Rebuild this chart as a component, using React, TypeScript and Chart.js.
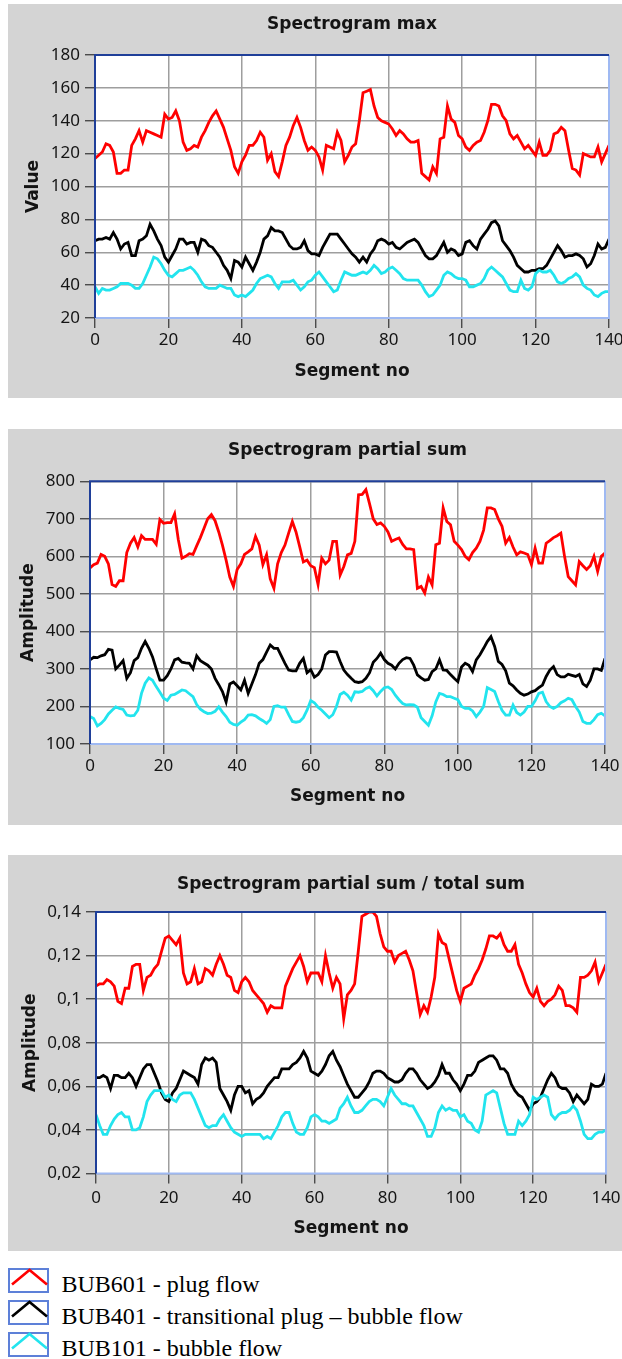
import React, { useEffect, useRef } from "react";
import { Chart, registerables } from "chart.js";

Chart.register(...registerables);

// ---------- data ----------
const SEGMENTS: number[] = Array.from({ length: 141 }, (_, i) => i);

const SERIES_NAMES = [
  "BUB601 - plug flow",
  "BUB401 - transitional plug \u2013 bubble flow",
  "BUB101 - bubble flow",
];
const SERIES_COLORS = ["#ff0000", "#000000", "#22e4ee"];

const CHART_TITLES = ["Spectrogram max", "Spectrogram partial sum", "Spectrogram partial sum / total sum"];
const Y_TITLES = ["Value", "Amplitude", "Amplitude"];
const X_TITLE = "Segment no";

// Spectrogram max
const MAX_PLUG = [
  117, 119, 121, 126, 125, 121, 108, 108, 110, 110,
  125, 129, 134, 127, 134, 133, 132, 131, 130, 144,
  141, 142, 146, 140, 127, 122, 123, 125, 124, 130,
  134, 139, 143, 146, 141, 136, 129, 122, 112, 108,
  115, 119, 125, 125, 128, 133, 130, 116, 120, 109,
  106, 115, 125, 130, 137, 142, 136, 128, 122, 124,
  122, 118, 110, 125, 124, 123, 133, 128, 115, 119,
  124, 126, 140, 157, 158, 159, 149, 142, 140, 139,
  138, 135, 131, 134, 132, 129, 127, 127, 128, 108,
  106, 104, 112, 108, 129, 130, 149, 141, 139, 131,
  129, 124, 122, 125, 127, 128, 133, 140, 150, 150,
  149, 143, 140, 132, 129, 131, 127, 123, 125, 122,
  119, 127, 119, 119, 122, 132, 133, 136, 134, 122,
  111, 110, 107, 120, 119, 118, 118, 124, 115, 120,
  125,
];
const MAX_TRANS = [
  67, 68, 68, 69, 68, 72, 68, 62, 65, 66,
  58, 58, 67, 68, 70, 77, 73, 68, 64, 57,
  54, 58, 62, 68, 68, 65, 66, 66, 60, 68,
  67, 64, 63, 60, 57, 52, 49, 44, 55, 54,
  51, 57, 53, 49, 54, 60, 68, 70, 75, 73,
  73, 72, 68, 64, 62, 62, 63, 67, 61, 59,
  59, 58, 63, 67, 71, 71, 71, 68, 65, 62,
  59, 57, 54, 57, 54, 59, 62, 67, 68, 67,
  65, 66, 63, 62, 64, 66, 67, 68, 66, 62,
  58, 56, 56, 58, 62, 66, 60, 62, 61, 58,
  59, 66, 67, 64, 62, 68, 71, 74, 78, 79,
  76, 67, 64, 61, 57, 52, 50, 48, 48, 49,
  49, 50, 50, 52, 56, 60, 64, 61, 57, 58,
  58, 59, 58, 56, 51, 53, 58, 65, 62, 63,
  68,
];
const MAX_BUBBLE = [
  39, 35, 38, 37, 37, 38, 39, 41, 41, 41,
  40, 38, 38, 41, 46, 51, 57, 56, 53, 49,
  46, 45, 47, 49, 49, 50, 51, 49, 46, 42,
  39, 38, 38, 38, 40, 39, 38, 38, 34, 33,
  34, 33, 35, 37, 41, 44, 45, 46, 45, 41,
  38, 42, 42, 42, 43, 40, 37, 39, 42, 43,
  46, 48, 45, 42, 39, 36, 37, 43, 48, 47,
  46, 46, 47, 48, 47, 49, 52, 50, 47, 48,
  50, 51, 49, 47, 44, 43, 43, 43, 43, 40,
  36, 33, 34, 37, 40, 46, 48, 47, 45, 44,
  44, 43, 39, 39, 40, 41, 44, 49, 51, 49,
  47, 45, 41, 37, 36, 36, 43, 38, 37, 39,
  47, 49, 48, 48, 49, 46, 42, 41, 42, 44,
  45, 47, 45, 40, 38, 37, 34, 33, 35, 36,
  36,
];

// Spectrogram partial sum
const PSUM_PLUG = [
  569, 578, 582, 605, 600, 580, 525, 520, 535, 535,
  610, 635, 650, 625, 655, 645, 645, 645, 632, 698,
  688, 690, 690, 713, 645, 595, 600, 607, 605, 628,
  650, 675, 700, 711, 695, 665, 630, 590, 545, 520,
  565, 580, 605, 612, 620, 653, 630, 578, 604, 540,
  515, 580, 610, 630, 662, 693, 665, 626, 585, 590,
  575, 570, 525, 595, 580, 590, 640, 640, 550, 573,
  604, 608, 640, 764, 765, 778, 740, 700, 685, 689,
  680, 665, 640, 645, 649, 632, 620, 620, 618, 515,
  520, 502, 545, 524, 631, 635, 729, 693, 684, 640,
  630, 618, 600, 591, 610, 622, 640, 670, 729, 729,
  725, 700, 680, 635, 650, 625, 604, 612, 609, 605,
  578, 622, 582, 582, 635, 642, 650, 655, 662, 600,
  546, 535, 524, 586, 575, 565, 575, 600, 560, 600,
  609,
];
const PSUM_TRANS = [
  324, 331, 330, 335, 338, 352, 350, 300, 310, 322,
  275, 290, 322, 330, 355, 373, 355, 332, 300, 270,
  270, 282, 300, 324, 328, 318, 316, 315, 300, 335,
  322, 316, 310, 300, 275, 258, 240, 212, 260, 265,
  255, 244, 270, 235, 260, 285, 315, 325, 345, 364,
  355, 355, 335, 315, 297, 295, 295, 315, 328, 290,
  298, 278, 285, 300, 337, 346, 346, 345, 320, 297,
  285, 275, 266, 264, 266, 275, 290, 318, 328, 342,
  325, 315, 310, 300, 315, 325, 330, 328, 310, 284,
  276, 270, 272, 293, 300, 324, 297, 296, 285, 275,
  266, 305, 315, 310, 293, 324, 338, 355, 373, 386,
  360, 320, 312, 295, 262, 255, 244, 235, 230, 233,
  239, 242, 250, 257, 280, 297, 306, 285, 279, 279,
  286, 283, 280, 285, 260, 253, 270, 300, 300, 296,
  328,
];
const PSUM_BUBBLE = [
  173, 168, 148, 155, 165, 180, 190, 199, 195, 192,
  177, 175, 176, 190, 235, 262, 276, 270, 253, 238,
  222, 216, 230, 232, 238, 244, 242, 234, 226, 205,
  193, 186, 181, 182, 187, 199, 185, 173, 158, 152,
  150, 158, 165, 177, 178, 175, 168, 162, 155, 165,
  200, 202, 198, 198, 178, 160, 158, 160, 170, 190,
  216, 210, 198, 190, 180, 170, 178, 200, 232, 238,
  230, 217, 239, 238, 240, 248, 252, 242, 228, 240,
  250, 252, 245, 230, 218, 208, 204, 205, 204, 198,
  170, 160, 150, 175, 212, 235, 232, 226, 226, 222,
  218, 200, 195, 195, 188, 173, 185, 200, 250, 245,
  240, 213, 190, 177, 177, 204, 184, 177, 185, 200,
  200, 215, 235, 238, 213, 200, 195, 200, 210, 215,
  222, 218, 200, 185, 160, 155, 155, 165, 178, 182,
  175,
];

// Spectrogram partial sum / total sum
const RATIO_PLUG = [
  0.106, 0.107, 0.107, 0.109, 0.108, 0.106, 0.099, 0.098, 0.105, 0.105,
  0.115, 0.116, 0.116, 0.104, 0.110, 0.111, 0.114, 0.116, 0.122, 0.128,
  0.129, 0.127, 0.125, 0.128, 0.112, 0.107, 0.108, 0.114, 0.107, 0.108,
  0.114, 0.113, 0.111, 0.116, 0.120, 0.116, 0.111, 0.110, 0.104, 0.103,
  0.108, 0.110, 0.108, 0.104, 0.102, 0.100, 0.098, 0.094, 0.097, 0.096,
  0.096, 0.096, 0.106, 0.110, 0.114, 0.117, 0.120, 0.115, 0.108, 0.112,
  0.112, 0.112, 0.108, 0.120, 0.112, 0.105, 0.110, 0.107, 0.091, 0.102,
  0.104, 0.107, 0.122, 0.138, 0.139, 0.140, 0.140, 0.138, 0.130, 0.124,
  0.122, 0.122, 0.117, 0.120, 0.121, 0.122, 0.118, 0.113, 0.103, 0.093,
  0.097, 0.094, 0.101, 0.110, 0.130, 0.126, 0.125, 0.118, 0.111, 0.104,
  0.099, 0.105, 0.106, 0.107, 0.111, 0.114, 0.118, 0.123, 0.129, 0.129,
  0.128, 0.130, 0.125, 0.122, 0.122, 0.125, 0.116, 0.112, 0.107, 0.103,
  0.101, 0.105, 0.099, 0.097, 0.099, 0.100, 0.102, 0.106, 0.104, 0.097,
  0.097, 0.096, 0.094, 0.110, 0.110, 0.111, 0.113, 0.117, 0.108, 0.112,
  0.116,
];
const RATIO_TRANS = [
  0.064, 0.064, 0.065, 0.064, 0.059, 0.065, 0.065, 0.064, 0.064, 0.066,
  0.064, 0.060, 0.064, 0.068, 0.070, 0.070, 0.066, 0.062, 0.057, 0.054,
  0.053, 0.057, 0.059, 0.063, 0.067, 0.066, 0.065, 0.064, 0.061, 0.070,
  0.073, 0.072, 0.073, 0.071, 0.059, 0.056, 0.053, 0.049, 0.056, 0.060,
  0.060, 0.057, 0.058, 0.052, 0.054, 0.055, 0.057, 0.060, 0.062, 0.064,
  0.064, 0.068, 0.068, 0.068, 0.070, 0.071, 0.073, 0.076, 0.073, 0.067,
  0.066, 0.065, 0.067, 0.070, 0.074, 0.076, 0.072, 0.069, 0.065, 0.061,
  0.058, 0.055, 0.055, 0.057, 0.059, 0.062, 0.066, 0.067, 0.067, 0.066,
  0.064, 0.063, 0.062, 0.062, 0.063, 0.066, 0.068, 0.068, 0.066, 0.063,
  0.061, 0.059, 0.060, 0.062, 0.065, 0.070, 0.066, 0.066, 0.063, 0.061,
  0.058, 0.061, 0.065, 0.065, 0.067, 0.071, 0.072, 0.073, 0.074, 0.074,
  0.072, 0.068, 0.068, 0.066, 0.061, 0.058, 0.056, 0.055, 0.052, 0.049,
  0.052, 0.053, 0.055, 0.059, 0.063, 0.066, 0.064, 0.060, 0.059, 0.059,
  0.057, 0.053, 0.056, 0.054, 0.052, 0.054, 0.061, 0.060, 0.060, 0.061,
  0.066,
];
const RATIO_BUBBLE = [
  0.047, 0.042, 0.038, 0.038, 0.042, 0.045, 0.047, 0.048, 0.046, 0.046,
  0.040, 0.040, 0.041, 0.046, 0.053, 0.056, 0.058, 0.058, 0.058, 0.055,
  0.056, 0.054, 0.053, 0.056, 0.057, 0.057, 0.057, 0.054, 0.050, 0.046,
  0.042, 0.041, 0.042, 0.042, 0.045, 0.047, 0.044, 0.041, 0.039, 0.038,
  0.037, 0.038, 0.038, 0.038, 0.038, 0.038, 0.036, 0.037, 0.036, 0.039,
  0.042, 0.046, 0.048, 0.048, 0.043, 0.039, 0.038, 0.038, 0.041, 0.046,
  0.047, 0.046, 0.044, 0.044, 0.043, 0.044, 0.045, 0.050, 0.052, 0.055,
  0.051, 0.048, 0.048, 0.049, 0.051, 0.053, 0.054, 0.054, 0.053, 0.051,
  0.055, 0.059, 0.056, 0.054, 0.052, 0.052, 0.051, 0.051, 0.048, 0.045,
  0.042, 0.037, 0.037, 0.041, 0.048, 0.051, 0.049, 0.050, 0.049, 0.049,
  0.046, 0.047, 0.044, 0.043, 0.040, 0.039, 0.044, 0.056, 0.057, 0.058,
  0.057, 0.050, 0.043, 0.038, 0.038, 0.038, 0.044, 0.042, 0.044, 0.047,
  0.055, 0.054, 0.055, 0.056, 0.055, 0.047, 0.045, 0.047, 0.048, 0.048,
  0.049, 0.051, 0.049, 0.044, 0.038, 0.036, 0.036, 0.038, 0.039, 0.039,
  0.040,
];

// axis ranges
const X_RANGE = { min: 0, max: 140, step: 20 };
const Y_RANGES = [
  { min: 20, max: 180, step: 20 },
  { min: 100, max: 800, step: 100 },
  { min: 0.02, max: 0.14, step: 0.02 },
];

// ---------- styles ----------
const PANEL_BG = "#d4d4d4";
const GRID = "#9e9e9e";
const TEXT = "#141414";
const BORDER_DARK = "#1f3f99";
const BORDER_LIGHT = "#9fb9f2";
const BOLD_FONT = "'DejaVu Sans', sans-serif";
const TICK_FONT = "'Noto Sans', sans-serif";

type Layout = {
  top: number;
  height: number;
  yAxisWidth: number;
  xAxisHeight: number;
  padRight: number;
  titlePadTop: number;
  titlePadBottom: number;
  xTitlePadBottom: number;
  yTitlePadTop: number;
  xTickPad: number;
};

const LAYOUTS: Layout[] = [
  { top: 4, height: 394, yAxisWidth: 87, xAxisHeight: 80, padRight: 13, titlePadTop: 10.8, titlePadBottom: 19.8, xTitlePadBottom: 16, yTitlePadTop: 15, xTickPad: 2 },
  { top: 429, height: 396, yAxisWidth: 82, xAxisHeight: 81, padRight: 17, titlePadTop: 11.5, titlePadBottom: 20.4, xTitlePadBottom: 18, yTitlePadTop: 10.6, xTickPad: 2 },
  { top: 855, height: 396, yAxisWidth: 88, xAxisHeight: 77.5, padRight: 16, titlePadTop: 19.1, titlePadBottom: 17.5, xTitlePadBottom: 12.5, yTitlePadTop: 12.6, xTickPad: 4.5 },
];

const plotFrame = {
  id: "plotFrame",
  beforeDraw(chart: any) {
    const { ctx, chartArea: a } = chart;
    ctx.save();
    ctx.fillStyle = "#ffffff";
    ctx.fillRect(a.left, a.top, a.right - a.left, a.bottom - a.top);
    ctx.restore();
  },
  afterDraw(chart: any) {
    const { ctx, chartArea: a } = chart;
    ctx.save();
    ctx.lineWidth = 2;
    ctx.strokeStyle = BORDER_LIGHT;
    ctx.beginPath();
    ctx.moveTo(a.right, a.top);
    ctx.lineTo(a.right, a.bottom);
    ctx.lineTo(a.left, a.bottom);
    ctx.stroke();
    ctx.strokeStyle = BORDER_DARK;
    ctx.beginPath();
    ctx.moveTo(a.left, a.bottom);
    ctx.lineTo(a.left, a.top);
    ctx.lineTo(a.right, a.top);
    ctx.stroke();
    ctx.restore();
  },
};

function fmtTick(v: number, comma: boolean) {
  const r = Math.round(v * 1000) / 1000;
  const s = String(r);
  return comma ? s.replace(".", ",") : s;
}

function buildConfig(idx: number, series: number[][]) {
  const L = LAYOUTS[idx];
  const yr = Y_RANGES[idx];
  const comma = idx === 2;
  const drawOrder = [2, 1, 0];
  return {
    type: "line" as const,
    data: {
      datasets: series.map((vals, k) => ({
        label: SERIES_NAMES[k],
        data: SEGMENTS.map((x, i) => ({ x, y: vals[i] })),
        borderColor: SERIES_COLORS[k],
        backgroundColor: SERIES_COLORS[k],
        borderWidth: 2.8,
        pointRadius: 0,
        tension: 0,
        fill: false,
        order: drawOrder[k],
      })),
    },
    options: {
      animation: false,
      responsive: false,
      maintainAspectRatio: false,
      devicePixelRatio: 1,
      layout: { padding: { left: 0, right: L.padRight, top: 0, bottom: 0 } },
      plugins: {
        legend: { display: false },
        tooltip: { enabled: false },
        title: {
          display: true,
          fullSize: false,
          text: CHART_TITLES[idx],
          color: TEXT,
          font: { family: BOLD_FONT, size: 17, weight: "bold" },
          padding: { top: L.titlePadTop, bottom: L.titlePadBottom },
        },
      },
      scales: {
        x: {
          type: "linear",
          min: X_RANGE.min,
          max: X_RANGE.max,
          ticks: {
            stepSize: X_RANGE.step,
            padding: L.xTickPad,
            color: TEXT,
            font: { family: TICK_FONT, size: 17 },
            maxRotation: 0,
            autoSkip: false,
          },
          grid: { color: GRID, lineWidth: 1.5, tickLength: 10, tickColor: "#333333", tickWidth: 1.2 },
          border: { display: false },
          title: {
            display: true,
            text: X_TITLE,
            color: TEXT,
            font: { family: BOLD_FONT, size: 17, weight: "bold" },
            padding: { top: 0, bottom: L.xTitlePadBottom },
          },
          afterFit(s: any) {
            s.height = L.xAxisHeight;
            s.paddingLeft = 0;
            s.paddingRight = 0;
          },
        },
        y: {
          type: "linear",
          min: yr.min,
          max: yr.max,
          ticks: {
            stepSize: yr.step,
            padding: 5,
            color: TEXT,
            font: { family: TICK_FONT, size: 17 },
            callback: (v: number) => fmtTick(v, comma),
          },
          grid: { color: GRID, lineWidth: 1.5, tickLength: 10, tickColor: "#333333", tickWidth: 1.2 },
          border: { display: false },
          title: {
            display: true,
            text: Y_TITLES[idx],
            color: TEXT,
            font: { family: BOLD_FONT, size: 17, weight: "bold" },
            padding: { top: L.yTitlePadTop, bottom: 0 },
          },
          afterFit(s: any) {
            s.width = L.yAxisWidth;
            s.paddingTop = 0;
            s.paddingBottom = 0;
          },
        },
      },
    },
    plugins: [plotFrame],
  };
}

const PANEL_SERIES = [
  [MAX_PLUG, MAX_TRANS, MAX_BUBBLE],
  [PSUM_PLUG, PSUM_TRANS, PSUM_BUBBLE],
  [RATIO_PLUG, RATIO_TRANS, RATIO_BUBBLE],
];

function ChartPanel({ idx }: { idx: number }) {
  const ref = useRef<HTMLCanvasElement | null>(null);
  const L = LAYOUTS[idx];
  useEffect(() => {
    if (!ref.current) return;
    const chart = new Chart(ref.current, buildConfig(idx, PANEL_SERIES[idx]) as any);
    return () => chart.destroy();
  }, [idx]);
  return (
    <canvas
      ref={ref}
      width={614}
      height={L.height}
      style={{ position: "absolute", left: 8, top: L.top, width: 614, height: L.height, background: PANEL_BG }}
    />
  );
}

function LegendIcon({ color }: { color: string }) {
  return (
    <svg width={41} height={25} style={{ position: "absolute", left: 0, top: 0 }}>
      <rect x={1} y={1} width={39} height={23} fill="#ffffff" stroke="#5d80d8" strokeWidth={2} />
      <polyline points="4,16.5 21.5,2 39,16.5" fill="none" stroke={color} strokeWidth={2.6} />
    </svg>
  );
}

function Legend() {
  return (
    <div style={{ position: "absolute", left: 8, top: 1268 }}>
      {SERIES_NAMES.map((name, k) => (
        <div key={k} style={{ position: "relative", height: 32, width: 600 }}>
          <LegendIcon color={SERIES_COLORS[k]} />
          <span
            style={{
              position: "absolute",
              left: 53.5,
              top: 0,
              fontFamily: "'Liberation Serif', 'Times New Roman', serif",
              fontSize: 24,
              lineHeight: "32px",
              color: "#000",
              whiteSpace: "nowrap",
            }}
          >
            {name}
          </span>
        </div>
      ))}
    </div>
  );
}

export default function App() {
  return (
    <div style={{ position: "relative", width: 622, height: 1359, overflow: "hidden", background: "#fff" }}>
      <style>{"html,body{margin:0;padding:0;overflow:hidden;}"}</style>
      <ChartPanel idx={0} />
      <ChartPanel idx={1} />
      <ChartPanel idx={2} />
      <Legend />
    </div>
  );
}
